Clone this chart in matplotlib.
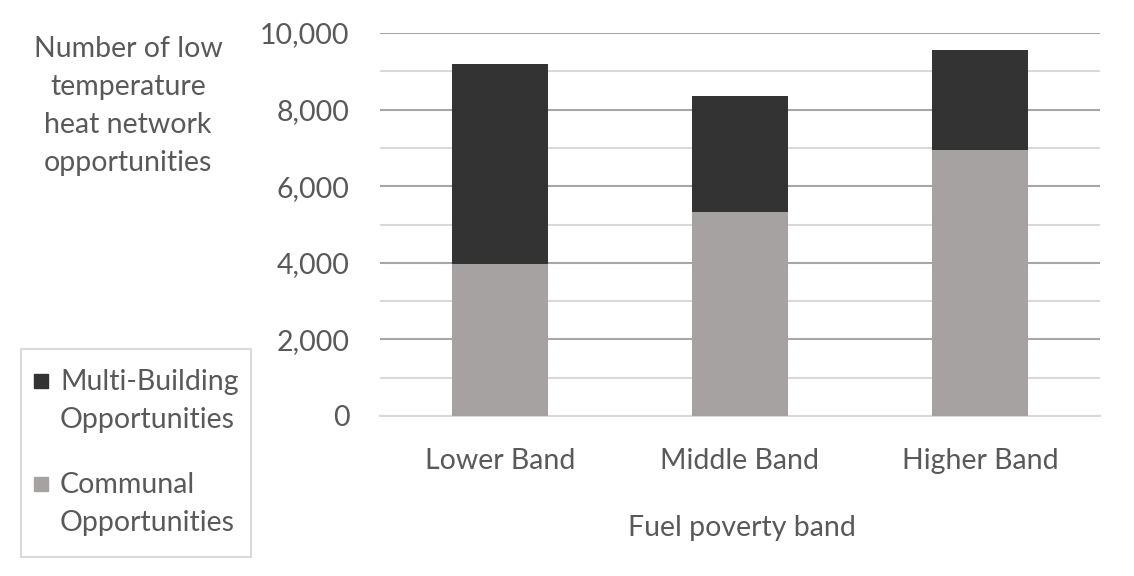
import numpy as np
import matplotlib.pyplot as plt
from matplotlib.patches import Rectangle
from matplotlib.ticker import MultipleLocator, FuncFormatter

# data
bands = ["Lower Band", "Middle Band", "Higher Band"]
communal = [3970, 5325, 6945]
multi_building = [5220, 3030, 2610]
series_names = ["Multi-Building\nOpportunities", "Communal\nOpportunities"]

DARK = "#333333"
GREY = "#a5a2a1"
TXT = "#595959"
FS = 20.5
LS = 1.57

plt.rcParams['font.family'] = ['Lato', 'DejaVu Sans']

W, H = 1134, 576
fig = plt.figure(figsize=(W / 100, H / 100), dpi=100)
ax = fig.add_axes([380 / W, 1 - 416 / H, 720 / W, 383 / H])

x = np.arange(len(bands))
ax.bar(x, communal, width=0.4, color=GREY, zorder=3)
ax.bar(x, multi_building, width=0.4, bottom=communal, color=DARK, zorder=3)

ax.set_xlim(-0.5, 2.5)
ax.set_ylim(0, 10000)
ax.yaxis.set_major_locator(MultipleLocator(2000))
ax.yaxis.set_minor_locator(MultipleLocator(1000))
ax.yaxis.set_major_formatter(FuncFormatter(lambda v, p: f"{int(v):,}"))
ax.grid(axis="y", which="major", color="#a6a6a6", lw=1.5, zorder=0)
ax.grid(axis="y", which="minor", color="#d9d9d9", lw=1.5, zorder=0)
for s in ["top", "right", "left"]:
    ax.spines[s].set_visible(False)
ax.spines["bottom"].set_color("#d9d9d9")
ax.spines["bottom"].set_linewidth(1.5)
ax.tick_params(axis="both", which="both", length=0, colors=TXT, labelsize=FS)
ax.tick_params(axis="y", pad=22)
ax.tick_params(axis="x", pad=23)
ax.set_xticks(x)
ax.set_xticklabels(bands)

fig.text(742 / W, 1 - 528 / H, "Fuel poverty band", ha="center", va="center",
         fontsize=FS, color=TXT)
fig.text(128 / W, 1 - 106 / H,
         "Number of low\ntemperature\nheat network\nopportunities",
         ha="center", va="center", fontsize=FS, color=TXT, linespacing=LS)

# legend box drawn by hand so the swatch sits on the first line
fig.patches.append(Rectangle((21 / W, 1 - 557 / H), 230 / W, 208 / H,
                             transform=fig.transFigure, fill=False,
                             edgecolor="#d9d9d9", lw=1.5))
for name, col, y0 in zip(series_names, [DARK, GREY], [381, 484]):
    fig.patches.append(Rectangle((34 / W, 1 - (y0 + 7) / H), 14 / W, 14 / H,
                                 transform=fig.transFigure, color=col))
    fig.text(60 / W, 1 - (y0 + 20) / H, name, ha="left", va="center",
             fontsize=FS, color=TXT, linespacing=LS)

fig.savefig("out.png", dpi=100)
